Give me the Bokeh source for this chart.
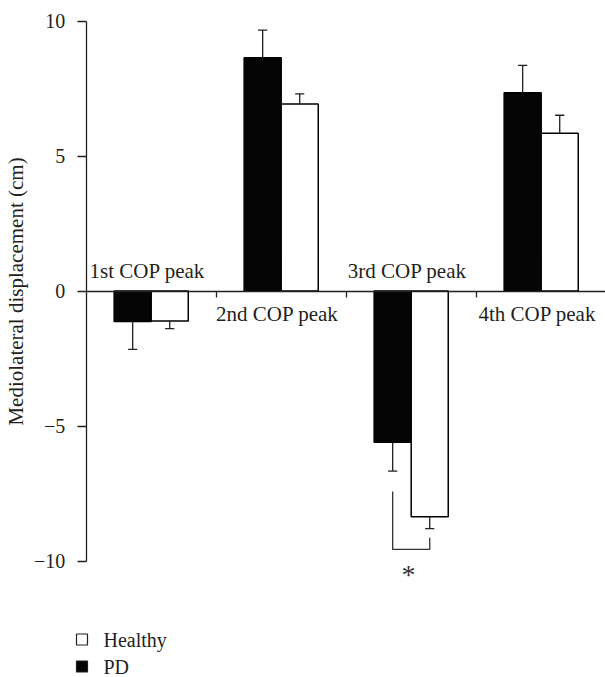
from bokeh.plotting import figure
from bokeh.models import Range1d, LinearAxis, FixedTicker
from bokeh.core.properties import value
from bokeh.embed import file_html
from bokeh.resources import INLINE

# ---------------- data ----------------
categories = ["1st COP peak", "2nd COP peak", "3rd COP peak", "4th COP peak"]
pd_mean = [-1.13, 8.64, -5.60, 7.34]
pd_err = [1.03, 1.02, 1.07, 1.02]
healthy_mean = [-1.11, 6.93, -8.36, 5.84]
healthy_err = [0.28, 0.37, 0.44, 0.67]
y_ticks = [-10, -5, 0, 5, 10]
y_tick_labels = ["\u221210", "\u22125", "0", "5", "10"]
y_label = "Mediolateral displacement (cm)"
legend_labels = ["Healthy", "PD"]
sig_category = 2
sig_left_top = -7.43
sig_bottom = -9.57
sig_right_top = -9.14
sig_mark = "*"
sig_mark_y = -10.42

# ---------------- layout / style ----------------
W, H = 605, 677
PX_X, PX_Y = 130.0, 27.0
x_start = -85.7 / PX_X
x_end = x_start + W / PX_X
y_end = 10 + 20.5 / PX_Y
y_start = y_end - H / PX_Y
FONT = "Liberation Serif"
INK = "#231f20"
BAR_W = 0.285
OFF = BAR_W / 2
CAP = 0.035
PD_FILL = "#050505"
H_FILL = "white"


def sx2x(sx):
    return x_start + sx / PX_X


def sy2y(sy):
    return y_end - sy / PX_Y


p = figure(width=W, height=H, output_backend="svg", toolbar_location=None,
           x_range=Range1d(x_start, x_end), y_range=Range1d(y_start, y_end),
           x_axis_location=None, y_axis_location=None,
           min_border_left=0, min_border_right=0, min_border_top=0, min_border_bottom=0)
p.outline_line_color = None
p.xgrid.visible = False
p.ygrid.visible = False
p.background_fill_color = "white"
p.border_fill_color = "white"

# y axis
yaxis = LinearAxis(fixed_location=0, bounds=(-10, 10), ticker=FixedTicker(ticks=y_ticks, minor_ticks=[]))
yaxis.major_label_overrides = {t: s for t, s in zip(y_ticks, y_tick_labels)}
yaxis.axis_line_color = INK
yaxis.axis_line_width = 1.3
yaxis.major_tick_line_color = INK
yaxis.major_tick_line_width = 1.3
yaxis.major_tick_in = 0
yaxis.major_tick_out = 9
yaxis.minor_tick_line_color = None
yaxis.major_label_standoff = 12
yaxis.major_label_text_font = FONT
yaxis.major_label_text_font_size = "20px"
yaxis.major_label_text_color = INK
yaxis.axis_label = y_label
yaxis.axis_label_text_font = FONT
yaxis.axis_label_text_font_size = "21px"
yaxis.axis_label_text_font_style = "normal"
yaxis.axis_label_text_color = INK
yaxis.axis_label_standoff = 3
p.add_layout(yaxis, "left")

# x axis (at y = 0) with ticks between categories
n = len(categories)
xaxis = LinearAxis(fixed_location=0, bounds=(0, x_end),
                   ticker=FixedTicker(ticks=list(range(1, n)), minor_ticks=[]))
xaxis.major_label_overrides = {i: " " for i in range(1, n)}
xaxis.major_label_text_font_size = "1px"
xaxis.axis_line_color = INK
xaxis.axis_line_width = 1.3
xaxis.major_tick_line_color = INK
xaxis.major_tick_line_width = 1.3
xaxis.major_tick_in = 0
xaxis.major_tick_out = 6
xaxis.minor_tick_line_color = None
p.add_layout(xaxis, "below")

# bars
centers = [i + 0.5 for i in range(n)]
pd_x = [c - OFF for c in centers]
h_x = [c + OFF for c in centers]

p.vbar(x=pd_x, top=pd_mean, bottom=0, width=BAR_W,
       fill_color=PD_FILL, line_color="#000000", line_width=1.5)
p.vbar(x=h_x, top=healthy_mean, bottom=0, width=BAR_W,
       fill_color=H_FILL, line_color="#000000", line_width=1.5)


def sgn(v):
    return 1 if v >= 0 else -1


for xs, means, errs in ((pd_x, pd_mean, pd_err), (h_x, healthy_mean, healthy_err)):
    ends = [m + sgn(m) * e for m, e in zip(means, errs)]
    p.segment(x0=xs, y0=means, x1=xs, y1=ends, line_color=INK, line_width=1.3)
    p.segment(x0=[x - CAP for x in xs], y0=ends, x1=[x + CAP for x in xs], y1=ends,
              line_color=INK, line_width=1.3)

# category labels (above the axis when the bars go down, below otherwise)
lab_x = [c - 0.03 for c in centers]
lab_off = [-20.5 if max(a, b) < 0 else 23 for a, b in zip(pd_mean, healthy_mean)]
p.text(x=lab_x, y=[0] * n, text=categories, y_offset=lab_off,
       text_align="center", text_baseline="alphabetic",
       text_font=value(FONT), text_font_size="21px", text_color=INK)

# significance bracket
bl = pd_x[sig_category]
br = h_x[sig_category]
p.line(x=[bl, bl, br, br], y=[sig_left_top, sig_bottom, sig_bottom, sig_right_top],
       line_color="#333333", line_width=1.3)
p.text(x=[(bl + br) / 2 - 0.02], y=[sig_mark_y], text=[sig_mark], y_offset=2,
       text_align="center", text_baseline="alphabetic",
       text_font=value(FONT), text_font_size="28px", text_color="#333333")

# legend (drawn below the plot, lower left)
row_sy = [639.0, 666.0]
p.scatter(x=[sx2x(81.5)] * 2, y=[sy2y(s) for s in row_sy], marker="square", size=11,
          fill_color=[H_FILL, PD_FILL], line_color=INK, line_width=1.2)
p.text(x=[sx2x(103.0)] * 2, y=[sy2y(s) for s in row_sy], text=legend_labels, y_offset=0,
       text_align="left", text_baseline="alphabetic",
       text_font=value(FONT), text_font_size="20px", text_color=INK)

open("out.html", "w").write(file_html(p, INLINE))
